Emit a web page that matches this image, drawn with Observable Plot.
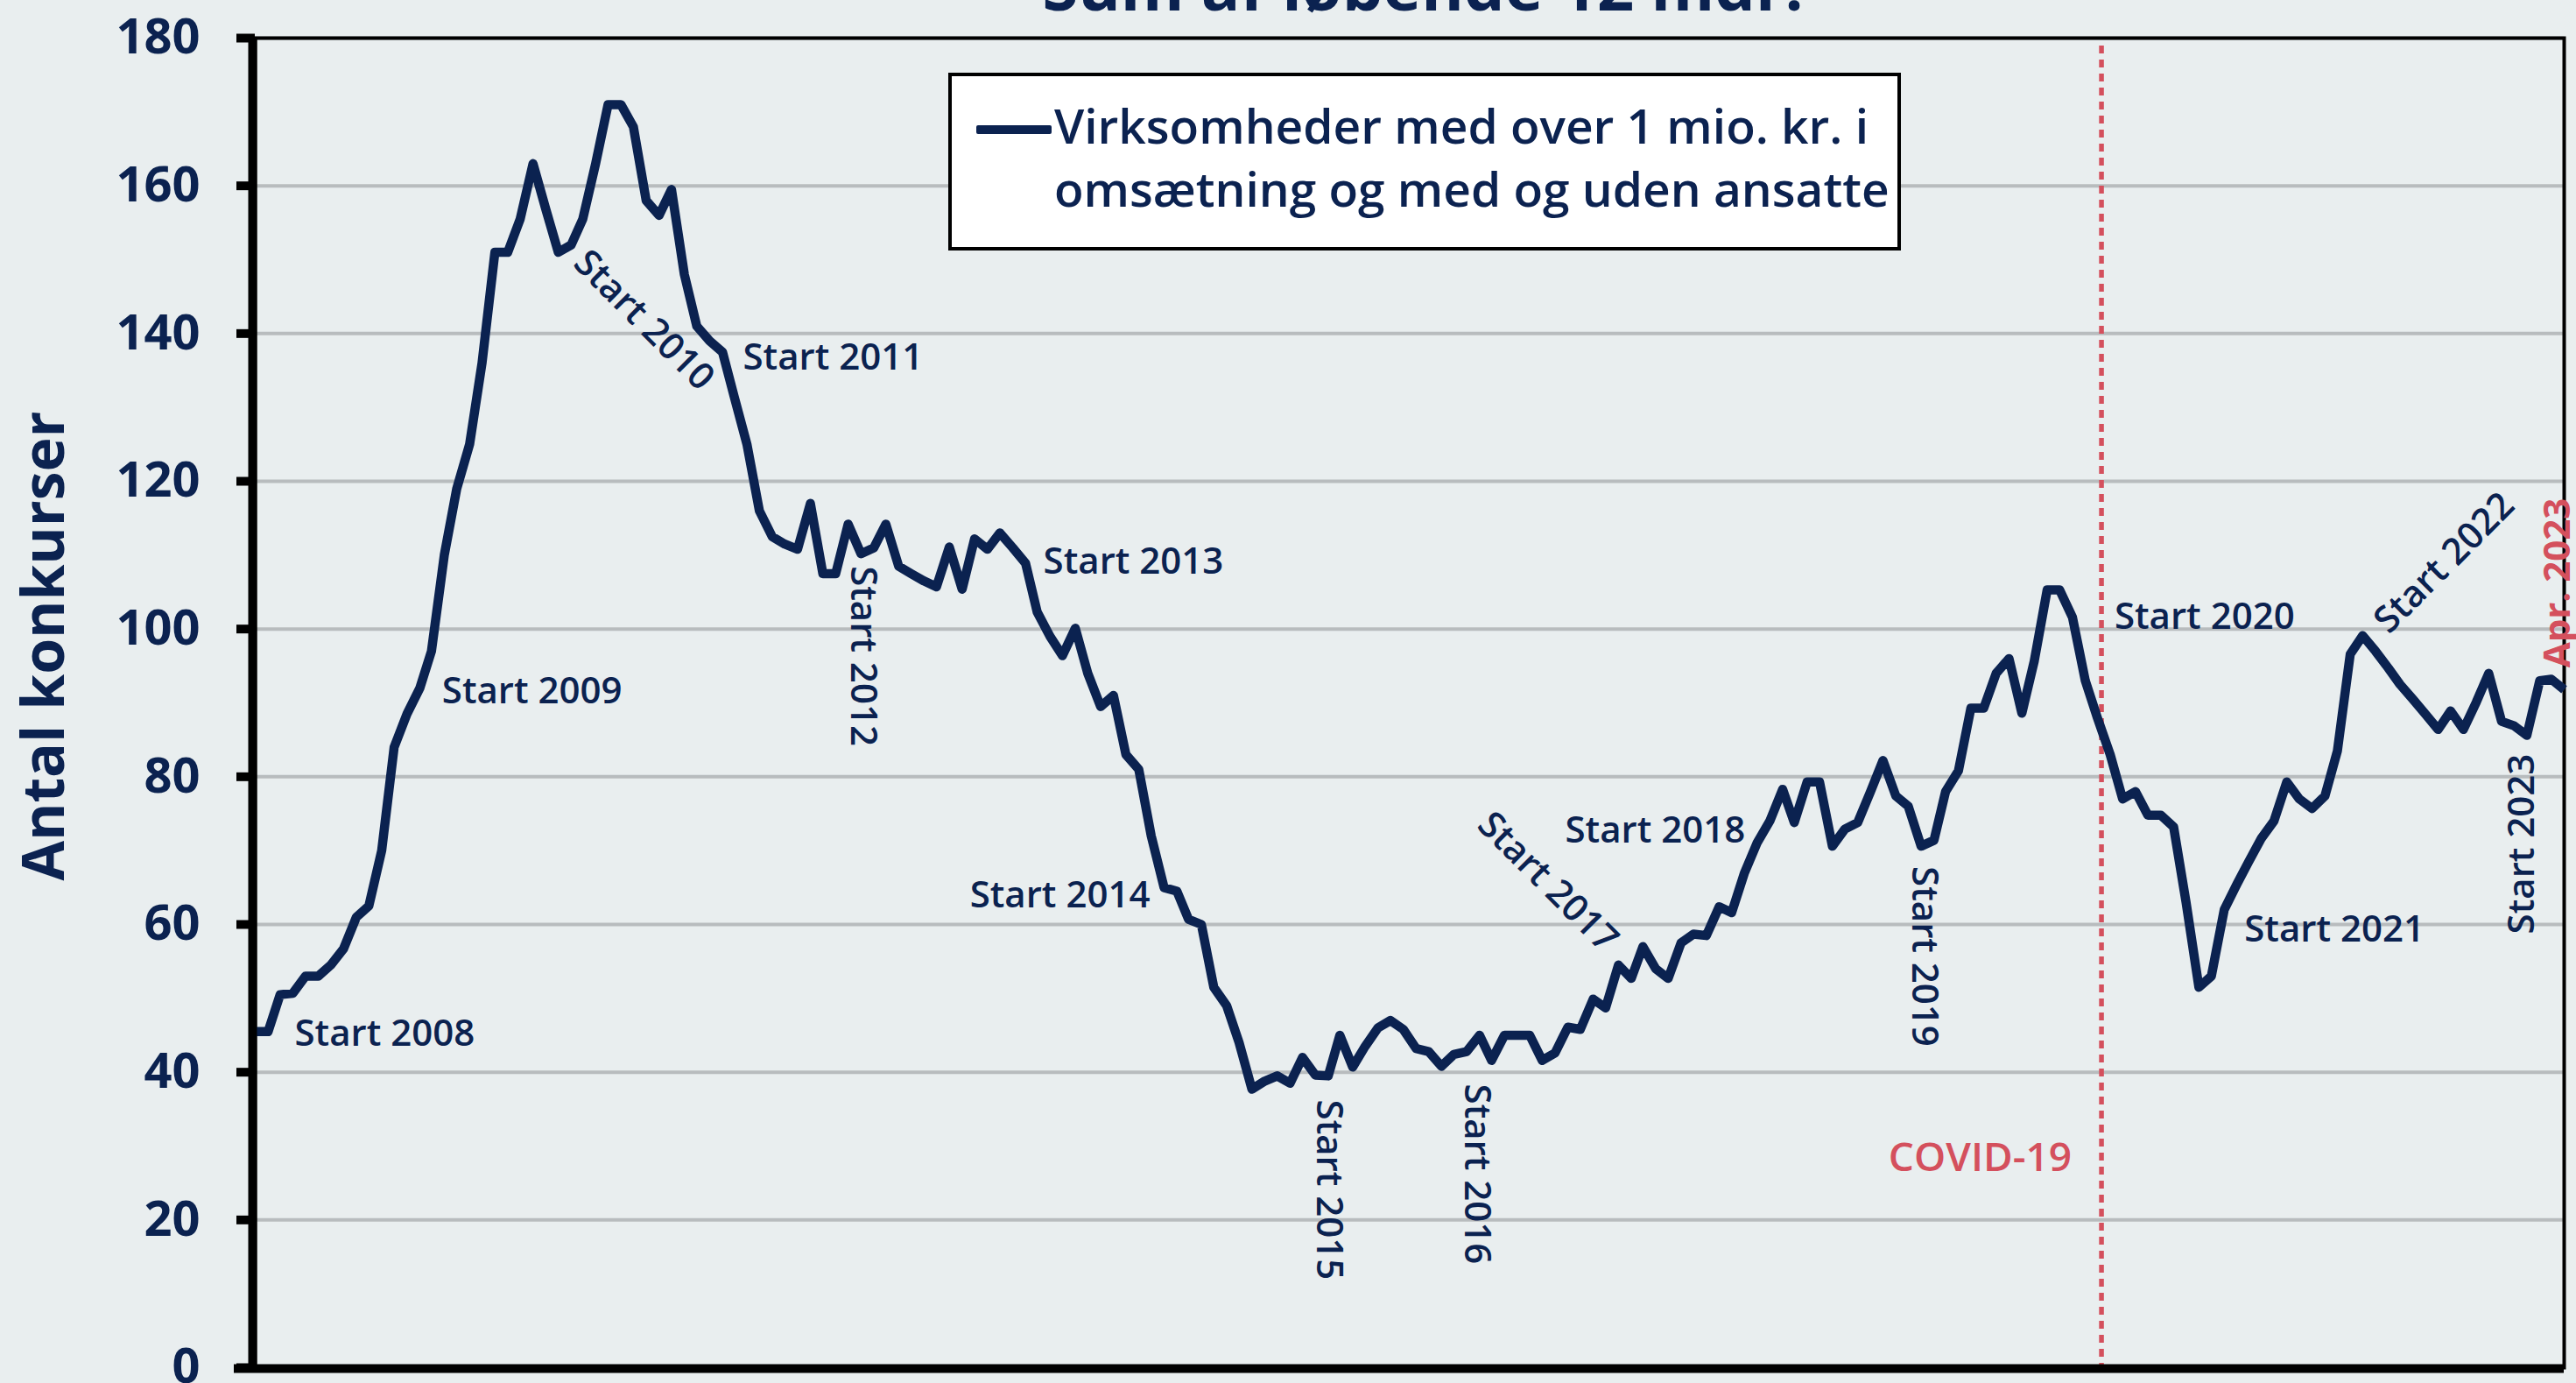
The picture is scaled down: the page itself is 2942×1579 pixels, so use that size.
<!DOCTYPE html>
<html>
<head>
<meta charset="utf-8">
<script src="https://cdn.jsdelivr.net/npm/d3@7"></script>
<script src="https://cdn.jsdelivr.net/npm/@observablehq/plot@0.6"></script>
<style>
  html, body { margin: 0; padding: 0; background: #e9eeef; }
  #wrap { position: relative; width: 2942px; height: 1579px; overflow: hidden; font-family: "Open Sans", sans-serif; }
  #legend { position: absolute; left: 1083px; top: 83px; width: 1088px; height: 203px; box-sizing: border-box;
            background: #ffffff; border: 4px solid #000; }
  #legend .swatch { position: absolute; left: 28px; top: 56px; width: 86px; height: 10px; background: #0b2250; border-radius: 2px; }
  #legend .txt { position: absolute; left: 117px; top: 20px; font-size: 55px; line-height: 72px; font-weight: 600; color: #0b2250; white-space: nowrap; }
</style>
</head>
<body>
<div id="wrap"></div>
<script>
// ---- Data: 12-month running sum of bankruptcies, monthly, Jan 2008 – Apr 2023 ----
const v2008 = [45.5, 45.5, 50.5, 50.7, 53, 53, 54.5, 56.7, 61, 62.5, 70, 84];
const v2009 = [88.5, 92, 97, 110, 119, 125, 136, 151, 151, 155.5, 163, 157];
const v2010 = [151, 152, 155.5, 163, 171, 171, 168, 158, 156, 159.5, 148, 141];
const v2011 = [139, 137.5, 131.5, 125, 116, 112.5, 111.5, 110.8, 117, 107.5, 107.5, 114.2];
const v2012 = [110.2, 111, 114.2, 108.5, 107.5, 106.5, 105.7, 111.1, 105.4, 112.2, 110.8, 113];
const v2013 = [111, 108.9, 102.3, 99, 96.4, 100.1, 94, 89.5, 91, 83, 81, 72];
const v2014 = [65, 64.5, 60.7, 60, 51.5, 49, 44, 37.7, 38.8, 39.5, 38.5, 42];
const v2015 = [39.6, 39.5, 45, 40.7, 43.5, 46, 47, 45.8, 43.2, 42.8, 40.8, 42.4];
const v2016 = [42.8, 45, 41.6, 45, 45, 45, 41.6, 42.6, 46.1, 45.8, 49.9, 48.7];
const v2017 = [54.5, 52.7, 57, 54, 52.7, 57.5, 58.7, 58.5, 62.4, 61.6, 67, 71];
const v2018 = [74, 78.3, 73.8, 79.3, 79.3, 70.6, 72.9, 73.8, 78, 82.2, 77.4, 76];
const v2019 = [70.6, 71.4, 78, 80.8, 89.3, 89.3, 94, 96, 88.6, 95.7, 105.3, 105.3];
const v2020 = [101.6, 93, 88, 83, 77, 78, 74.8, 74.8, 73.2, 63, 51.5, 53];
const v2021 = [62, 65.5, 68.5, 71.7, 74, 79.3, 77, 75.7, 77.4, 83.5, 96.6, 99.1];
const v2022 = [97, 94.7, 92.5, 90.5, 88.5, 86.4, 88.9, 86.4, 90.1, 94, 87.5, 86.9];
const v2023 = [85.6, 93, 93.2, 91.8];

const years = [2008, 2009, 2010, 2011, 2012, 2013, 2014, 2015, 2016, 2017, 2018, 2019, 2020, 2021, 2022, 2023];
const yearValues = [v2008, v2009, v2010, v2011, v2012, v2013, v2014, v2015, v2016, v2017, v2018, v2019, v2020, v2021, v2022, v2023];

const yTicks = [0, 20, 40, 60, 80, 100, 120, 140, 160, 180];
const startLabels = ["Start 2008", "Start 2009", "Start 2010", "Start 2011", "Start 2012", "Start 2013", "Start 2014", "Start 2015",
                     "Start 2016", "Start 2017", "Start 2018", "Start 2019", "Start 2020", "Start 2021", "Start 2022", "Start 2023"];
const seriesName = ["Virksomheder med over 1 mio. kr. i", "omsætning og med og uden ansatte"];
const yLabel = "Antal konkurser";
const titleText = "Sum af løbende 12 mdr.";
const covidLabel = "COVID-19";
const covidYear = 2020, covidMonth = 2, covidDay = 11;
const endLabel = "Apr. 2023";

// ---- Build table ----
const series = [];
years.forEach((yr, k) => yearValues[k].forEach((v, m) => series.push({date: new Date(Date.UTC(yr, m, 1)), value: v})));
const annos = years.map((yr, k) => ({date: new Date(Date.UTC(yr, 0, 1)), value: yearValues[k][0], label: startLabels[k]}));
const last = series[series.length - 1];
const covidDate = new Date(Date.UTC(covidYear, covidMonth, covidDay));

// ---- Styles ----
const navy = "#0b2250";
const red = "#d4505d";
const gridGray = "#b8bcbe";
// per-label placement: [dx, dy, textAnchor, rotate]
const place = [
  [45, 3, "start", 0],      // 2008
  [40, -26, "start", 0],    // 2009
  [25, 5, "start", 45],     // 2010
  [38, 19, "start", 0],     // 2011
  [2, 14, "start", 90],     // 2012
  [35, 16, "start", 0],     // 2013
  [-16, 9, "end", 0],       // 2014
  [15, 28, "start", 90],    // 2015
  [11, 37, "start", 90],    // 2016
  [-8, -22, "end", 45],     // 2017
  [-28, 11, "end", 0],      // 2018
  [3, 23, "start", 90],     // 2019
  [48, 0, "start", 0],      // 2020
  [23, 23, "start", 0],     // 2021
  [6, -28, "start", -45],   // 2022
  [-5, 21, "end", -90]      // 2023
];

const annoMarks = annos.map((a, k) => Plot.text([a], {
  x: "date", y: "value", text: "label",
  dx: place[k][0], dy: place[k][1], textAnchor: place[k][2], rotate: place[k][3],
  lineAnchor: "middle", fontSize: 42, fontWeight: 600, fill: navy
}));

const chart = Plot.plot({
  width: 2942,
  height: 1579,
  marginLeft: 291,
  marginRight: 14,
  marginTop: 43,
  marginBottom: 18,
  style: {background: "#e9eeef", fontFamily: "'Open Sans', sans-serif", color: navy},
  x: {type: "utc", domain: [series[0].date, last.date], axis: null},
  y: {domain: [0, 180]},
  marks: [
    Plot.ruleY(yTicks.filter(d => d > 0), {stroke: gridGray, strokeWidth: 4}),
    Plot.frame({stroke: "#000", strokeWidth: 4}),
    Plot.ruleX([covidDate], {stroke: red, strokeWidth: 5.5, strokeDasharray: "9,7", insetTop: 9}),
    Plot.line(series, {x: "date", y: "value", stroke: navy, strokeWidth: 10.5, strokeLinejoin: "round", strokeLinecap: "butt"}),
    Plot.axisY({ticks: yTicks, tickSize: 21, tickPadding: 42, stroke: "#000", strokeWidth: 10, fill: navy,
                fontSize: 56, fontWeight: 700, label: null, tickFormat: d => String(d)}),
    Plot.ruleX([series[0].date], {stroke: "#000", strokeWidth: 10, dx: -3}),
    Plot.ruleY([0], {stroke: "#000", strokeWidth: 10, dy: 1, insetLeft: -24}),
    ...annoMarks,
    Plot.text([covidLabel], {x: () => covidDate, frameAnchor: "bottom", textAnchor: "end", lineAnchor: "middle",
               dx: -34, dy: -239, fontSize: 46, fontWeight: 600, fill: red}),
    Plot.text([last], {x: "date", y: "value", text: () => endLabel, rotate: -90, textAnchor: "start", lineAnchor: "middle",
               dx: -7, dy: -25, fontSize: 42, fontWeight: 700, fill: red}),
    Plot.text([yLabel], {frameAnchor: "left", rotate: -90, textAnchor: "middle", lineAnchor: "middle", dx: -240, dy: -65,
               fontSize: 66, fontWeight: 700, fill: navy}),
    Plot.text([titleText], {frameAnchor: "top", textAnchor: "middle", lineAnchor: "middle", dx: 15, dy: -55,
               fontSize: 74, fontWeight: 700, fill: navy})
  ]
});

const wrap = document.getElementById("wrap");
wrap.appendChild(chart);

const legend = document.createElement("div");
legend.id = "legend";
legend.innerHTML = `<div class="swatch"></div><div class="txt">${seriesName[0]}<br>${seriesName[1]}</div>`;
wrap.appendChild(legend);
</script>
</body>
</html>
